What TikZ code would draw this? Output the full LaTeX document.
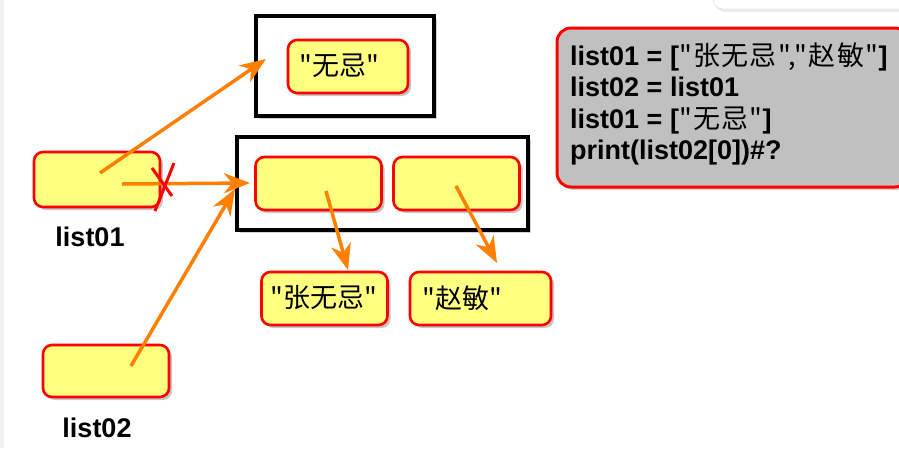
\documentclass[tikz,border=0pt]{standalone}
\usepackage{fontspec}
\setmainfont{Liberation Sans}
\newfontfamily\cjk{Noto Sans CJK SC}
\newfontfamily\cjkcode{Noto Sans CJK SC}[LetterSpace=5]
\usetikzlibrary{shadows,arrows.meta}
\definecolor{boxfill}{HTML}{FFFF80}
\definecolor{arrowc}{HTML}{FF8000}
\definecolor{codefill}{HTML}{C0C0C0}
\tikzset{
  ybox/.style={draw=red, line width=2.6pt, fill=boxfill, rounded corners=9pt,
    minimum width=126pt, minimum height=53pt, inner sep=0pt,
    drop shadow={shadow xshift=3pt, shadow yshift=-3pt, opacity=0.45}},
  frame/.style={draw=black, line width=4.5pt, fill=white,
    drop shadow={shadow xshift=3pt, shadow yshift=-3pt, opacity=0.35}},
  conn/.style={draw=arrowc, line width=3.5pt, -{Stealth[length=26pt,width=20pt,inset=8pt]}},
  lbl/.style={font=\bfseries\fontsize{27}{31}\selectfont, inner sep=0pt},
  cn/.style={font=\cjk\fontsize{27}{31}\selectfont, inner sep=0pt, anchor=west},
  codeline/.style={font=\bfseries\fontsize{27}{31}\selectfont, inner sep=0pt, anchor=base west},
}
\begin{document}
\begin{tikzpicture}[x=1pt,y=-1pt]
\useasboundingbox (0,0) rectangle (899,448);
\fill[white] (0,0) rectangle (899,448);
\fill[gray!12] (0,0) rectangle (4,448);
% top-right faint box
\draw[gray!35, fill=white, rounded corners=10pt,
  drop shadow={shadow xshift=2pt, shadow yshift=-3pt, opacity=0.15}] (713,-20) rectangle (910,9);
% frames
\node[frame, minimum width=178pt, minimum height=100pt] (f1) at (345,66) {};
\node[frame, minimum width=291pt, minimum height=93pt] (f2) at (382.5,183.5) {};
% boxes
\node[ybox, minimum width=120pt] (wuji) at (348,66.5) {};
\node[cn] (wujit) at (299,66) {"无忌"};
\node[ybox, minimum height=55pt] (l1) at (97,179.5) {};
\node[ybox, minimum height=52pt] (l2) at (106,371) {};
\node[ybox] (in1) at (318.5,183.5) {};
\node[ybox] (in2) at (456.5,183.5) {};
\node[ybox] (zhang) at (324.5,298.5) {};
\node[cn] (zhangt) at (270,298) {"张无忌"};
\node[ybox, minimum width=141pt] (zhao) at (480.5,298.5) {};
\node[cn] (zhaot) at (422,298) {"赵敏"};
% labels
\node[lbl] (l1t) at (90,237) {list01};
\node[lbl] (l2t) at (97,428) {list02};
% code box
\node[draw=red, line width=3pt, fill=codefill, rounded corners=14pt,
  minimum width=352pt, minimum height=159pt, inner sep=0pt,
  drop shadow={shadow xshift=3pt, shadow yshift=-3pt, opacity=0.35}] (code) at (733,107.5) {};
\node[codeline] (c1) at (570,65) {list01 = [{\cjkcode\mdseries"张无忌","赵敏"}]};
\node[codeline] (c2) at (570,96) {list02 = list01};
\node[codeline] (c3) at (570,128) {list01 = [{\cjkcode\mdseries"无忌"}]};
\node[codeline] (c4) at (570,159) {print(list02[0])\#?};
% connector points
\coordinate (s1) at (100,173);
\coordinate (e1) at (266,59);
\coordinate (s2) at (122,184);
\coordinate (e2) at (250,183);
\coordinate (s3) at (131,366);
\coordinate (e3) at (235,189);
\coordinate (s4) at (326,191);
\coordinate (e4) at (348,270);
\coordinate (s5) at (456,186);
\coordinate (e5) at (497,263);
\draw[conn] (s1) -- (e1);
\draw[conn] (s2) -- (e2);
\draw[conn] (s3) -- (e3);
\draw[conn] (s4) -- (e4);
\draw[conn] (s5) -- (e5);
% red cross
\coordinate (x1a) at (152,168);
\coordinate (x1b) at (172,196);
\coordinate (x2a) at (174,163);
\coordinate (x2b) at (155,211);
\draw[red, line width=3pt] (x1a) -- (x1b);
\draw[red, line width=3pt] (x2a) -- (x2b);
\end{tikzpicture}
\end{document}
